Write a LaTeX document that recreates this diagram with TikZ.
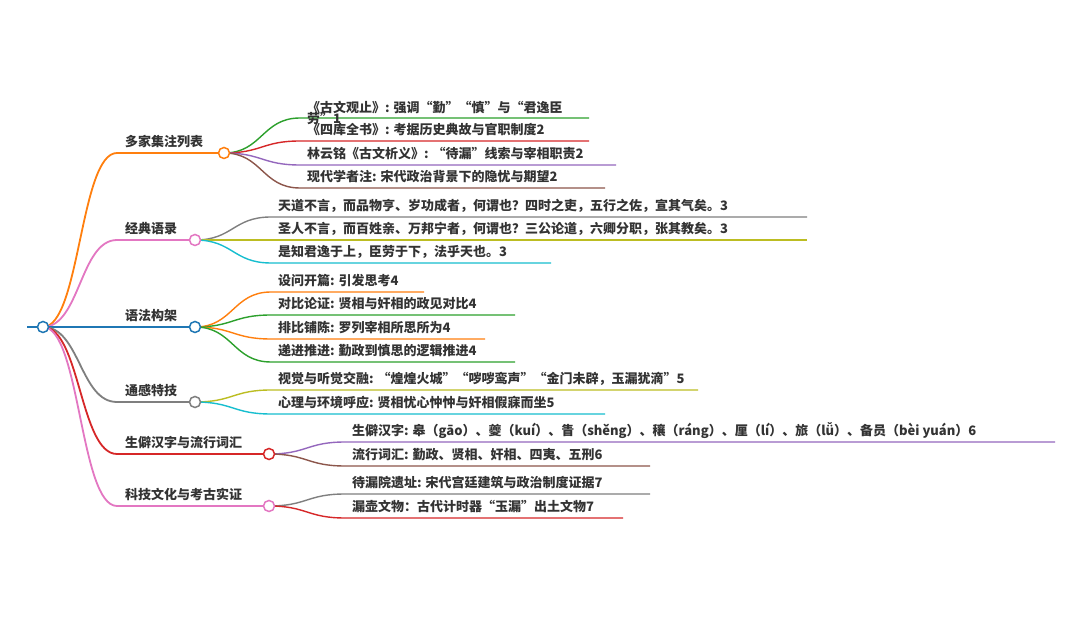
\documentclass[tikz,border=0pt]{standalone}
\usepackage{fontspec}
\setmainfont{Noto Sans CJK SC}
\definecolor{cblue}{HTML}{1F77B4}
\definecolor{corange}{HTML}{FF7F0E}
\definecolor{cgreen}{HTML}{2CA02C}
\definecolor{cred}{HTML}{D62728}
\definecolor{cpurple}{HTML}{9467BD}
\definecolor{cbrown}{HTML}{8C564B}
\definecolor{cpink}{HTML}{E377C2}
\definecolor{cgray}{HTML}{7F7F7F}
\definecolor{colive}{HTML}{BCBD22}
\definecolor{ccyan}{HTML}{17BECF}
\definecolor{txtc}{HTML}{333333}
% #1 name, #2 parent, #3 colour, #4 x start, #5 y, #6 x end, #7 text
\newcommand\mmkid[7]{%
  \coordinate (#1s) at (#4,#5);
  \coordinate (#1e) at (#6,#5);
  \draw[lktwo,#3] (#2) .. controls +(38,0) and +(-38,0) .. (#1s) -- (#1e);
  \path (#1s) ++(7,-6.5) node[lab] (#1) {#7};
}
% #1 name, #2 colour, #3 x start, #4 y, #5 label x
\newcommand\mmtop[5]{%
  \draw[lkone,#2] (R) .. controls +(37,0) and +(-37,0) .. (#1s) -- (#1);
}
\begin{document}
\begin{tikzpicture}[x=1pt,y=-1pt,
  lab/.style={anchor=base west,inner sep=0pt,text=txtc,font=\bfseries\fontsize{13}{13}\selectfont},
  dot/.style={circle,draw,fill=white,minimum size=11pt,inner sep=0pt,line width=1.5pt},
  lkone/.style={line width=1.8pt},
  lktwo/.style={line width=1.4pt}]
\useasboundingbox (0,0) rectangle (1080,617);
\fill[white] (0,0) rectangle (1080,617);

% positions
\coordinate (R0) at (27,327);
\coordinate (R) at (43,327);
\coordinate (A) at (224,153); \coordinate (As) at (117,153);
\coordinate (B) at (195,240); \coordinate (Bs) at (117,240);
\coordinate (C) at (195,327); \coordinate (Cs) at (117,327);
\coordinate (D) at (195,402); \coordinate (Ds) at (117,402);
\coordinate (E) at (269,454); \coordinate (Es) at (117,454);
\coordinate (F) at (269,506); \coordinate (Fs) at (117,506);

% first-level links
\draw[lkone,cblue] (R0) -- (R);
\mmtop{A}{corange}{}{}{}
\mmtop{B}{cpink}{}{}{}
\mmtop{C}{cblue}{}{}{}
\mmtop{D}{cgray}{}{}{}
\mmtop{E}{cred}{}{}{}
\mmtop{F}{cpink}{}{}{}

% first-level labels
\path (As) ++(8,-6.5) node[lab] (tA) {多家集注列表};
\path (Bs) ++(8,-6.5) node[lab] (tB) {经典语录};
\path (Cs) ++(8,-6.5) node[lab] (tC) {语法构架};
\path (Ds) ++(8,-6.5) node[lab] (tD) {通感特技};
\path (Es) ++(8,-6.5) node[lab] (tE) {生僻汉字与流行词汇};
\path (Fs) ++(8,-6.5) node[lab] (tF) {科技文化与考古实证};

% children of A
\coordinate (A1s) at (300,118); \coordinate (A1e) at (589,118);
\draw[lktwo,cgreen] (A) .. controls +(38,0) and +(-38,0) .. (A1s) -- (A1e);
\path (A1s) ++(7,-5.5) node[lab] (A1) {《古文观止》: 强调“勤”“慎”与“君逸臣};
\path (A1s) ++(7,6) node[lab] (A1b) {劳”1};
\mmkid{A2}{A}{cred}{300}{141}{589}{《四库全书》: 考据历史典故与官职制度2}
\mmkid{A3}{A}{cpurple}{300}{165}{616}{林云铭《古文析义》: “待漏”线索与宰相职责2}
\mmkid{A4}{A}{cbrown}{300}{188}{605}{现代学者注: 宋代政治背景下的隐忧与期望2}

% children of B
\mmkid{B1}{B}{cgray}{271}{217}{807}{天道不言，而品物亨、岁功成者，何谓也？四时之吏，五行之佐，宣其气矣。3}
\mmkid{B2}{B}{colive}{271}{240}{807}{圣人不言，而百姓亲、万邦宁者，何谓也？三公论道，六卿分职，张其教矣。3}
\mmkid{B3}{B}{ccyan}{271}{263}{551}{是知君逸于上，臣劳于下，法乎天也。3}

% children of C
\mmkid{C1}{C}{corange}{271}{292}{424}{设问开篇: 引发思考4}
\mmkid{C2}{C}{cgreen}{271}{315}{515}{对比论证: 贤相与奸相的政见对比4}
\mmkid{C3}{C}{corange}{271}{339}{485}{排比铺陈: 罗列宰相所思所为4}
\mmkid{C4}{C}{cgreen}{271}{362}{515}{递进推进: 勤政到慎思的逻辑推进4}

% children of D
\mmkid{D1}{D}{colive}{271}{390}{698}{视觉与听觉交融: “煌煌火城”“哕哕鸾声”“金门未辟，玉漏犹滴”5}
\mmkid{D2}{D}{ccyan}{271}{414}{605}{心理与环境呼应: 贤相忧心忡忡与奸相假寐而坐5}

% children of E
\mmkid{E1}{E}{cpurple}{345}{442}{1055}{生僻汉字: 皋（gāo）、夔（kuí）、眚（shěng）、穰（ráng）、厘（lí）、旅（lǚ）、备员（bèi yuán）6}
\mmkid{E2}{E}{cbrown}{345}{466}{650}{流行词汇: 勤政、贤相、奸相、四夷、五刑6}

% children of F
\mmkid{F1}{F}{cgray}{345}{494}{650}{待漏院遗址: 宋代宫廷建筑与政治制度证据7}
\mmkid{F2}{F}{cred}{345}{518}{623}{漏壶文物：古代计时器“玉漏”出土文物7}

% circles
\node[dot,draw=cblue] (Rc) at (R) {};
\node[dot,draw=corange] (Ac) at (A) {};
\node[dot,draw=cpink] (Bc) at (B) {};
\node[dot,draw=cblue] (Cc) at (C) {};
\node[dot,draw=cgray] (Dc) at (D) {};
\node[dot,draw=cred] (Ec) at (E) {};
\node[dot,draw=cpink] (Fc) at (F) {};
\end{tikzpicture}
\end{document}
